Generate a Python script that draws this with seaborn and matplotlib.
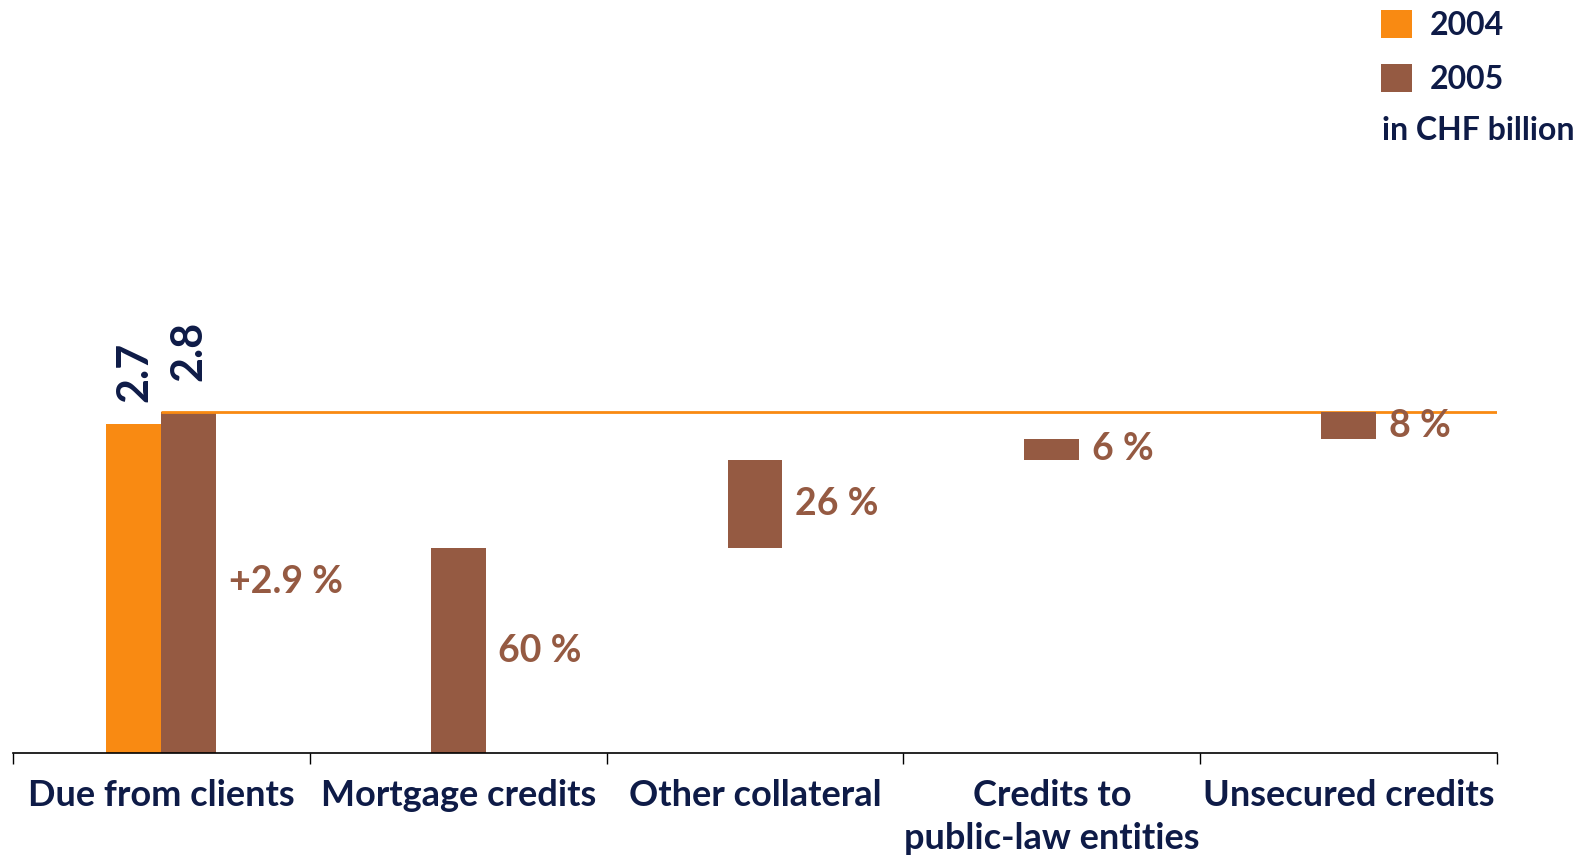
import matplotlib
matplotlib.use("Agg")
import matplotlib.pyplot as plt
import seaborn as sns
import pandas as pd
import numpy as np

# Loans: due from clients by year, and the 2005 breakdown by collateral type
categories = ["Due from clients", "Mortgage credits", "Other collateral",
              "Credits to\npublic-law entities", "Unsecured credits"]
years = ["2004", "2005"]
due_from_clients = [2.7, 2.8]          # CHF billion
growth_text = "+2.9 %"
breakdown_shares = [60, 26, 6, 8]       # percent of 2005 total

ORANGE = "#F98A12"
BROWN = "#955A42"
NAVY = "#0E1B47"

sns.set_theme(style="white")
plt.rcParams["font.family"] = ["Lato", "DejaVu Sans"]
plt.rcParams["font.weight"] = "bold"

W, H = 1591, 858
fig = plt.figure(figsize=(W / 100, H / 100), dpi=100)
ax = fig.add_axes([13 / W, 105 / H, (1497 - 13) / W, 753 / H])

df = pd.DataFrame({"category": [categories[0]] * len(years),
                   "year": years,
                   "value": due_from_clients})
sns.barplot(data=df, x="category", y="value", hue="year",
            order=categories, hue_order=years,
            palette=[ORANGE, BROWN], width=0.37, saturation=1,
            errorbar=None, linewidth=0, ax=ax)

# rotated value labels above the two totals
for cont, pad in zip(ax.containers[:2], [16, 22]):
    ax.bar_label(cont, fmt="%.1f", rotation=90, padding=pad,
                 color=NAVY, fontsize=31, fontweight="bold")

bar_w = 0.185
total = due_from_clients[1]

# growth label next to the 2005 bar
ax.annotate(growth_text, xy=(bar_w, total / 2), xytext=(9, 0),
            textcoords="offset points", ha="left", va="center",
            color=BROWN, fontsize=27, fontweight="bold")

# reference line at the 2005 total
ax.hlines(total, xmin=0, xmax=4.5, color=ORANGE, lw=2, zorder=1)

# floating segments of the 2005 total
cum = 0.0
for i, share in enumerate(breakdown_shares):
    h = total * share / 100
    ax.bar(i + 1, h, bottom=cum, width=bar_w, color=BROWN, linewidth=0)
    ax.annotate(f"{share} %", xy=(i + 1 + bar_w / 2, cum + h / 2),
                xytext=(9, 0), textcoords="offset points",
                ha="left", va="center", color=BROWN,
                fontsize=27, fontweight="bold")
    cum += h

ax.set_xlim(-0.5, 4.5)
ax.set_ylim(0, 753 / 121.8)
ax.set_yticks([])
ax.set_xlabel("")
ax.set_ylabel("")
ax.set_xticks(range(len(categories)), categories)
ax.set_xticks(np.arange(-0.5, len(categories), 1), minor=True)
ax.tick_params(axis="x", which="major", length=0, pad=19,
               labelsize=26, labelcolor=NAVY)
ax.tick_params(axis="x", which="minor", length=8, width=1,
               direction="out", color="black", bottom=True)
for lab in ax.get_xticklabels():
    lab.set_fontweight("bold")
    lab.set_multialignment("center")
    lab.set_linespacing(1.35)
for side in ["top", "left", "right"]:
    ax.spines[side].set_visible(False)
ax.spines["bottom"].set_color("black")
ax.spines["bottom"].set_linewidth(1.2)

handles, labels = ax.get_legend_handles_labels()
if ax.get_legend() is not None:
    ax.get_legend().remove()
leg = fig.legend(handles[:2], labels[:2], loc="upper left",
                 bbox_to_anchor=(1381 / W, 1 - 10 / H),
                 frameon=False, fontsize=23,
                 handlelength=0.97, handleheight=0.97,
                 handletextpad=0.55, labelspacing=0.76, borderpad=0,
                 borderaxespad=0)
for t in leg.get_texts():
    t.set_color(NAVY)
    t.set_fontweight("bold")
fig.text(1382 / W, 1 - 130 / H, "in CHF billion", ha="left", va="center",
         color=NAVY, fontsize=23, fontweight="bold")

fig.savefig("out.png", dpi=100)
